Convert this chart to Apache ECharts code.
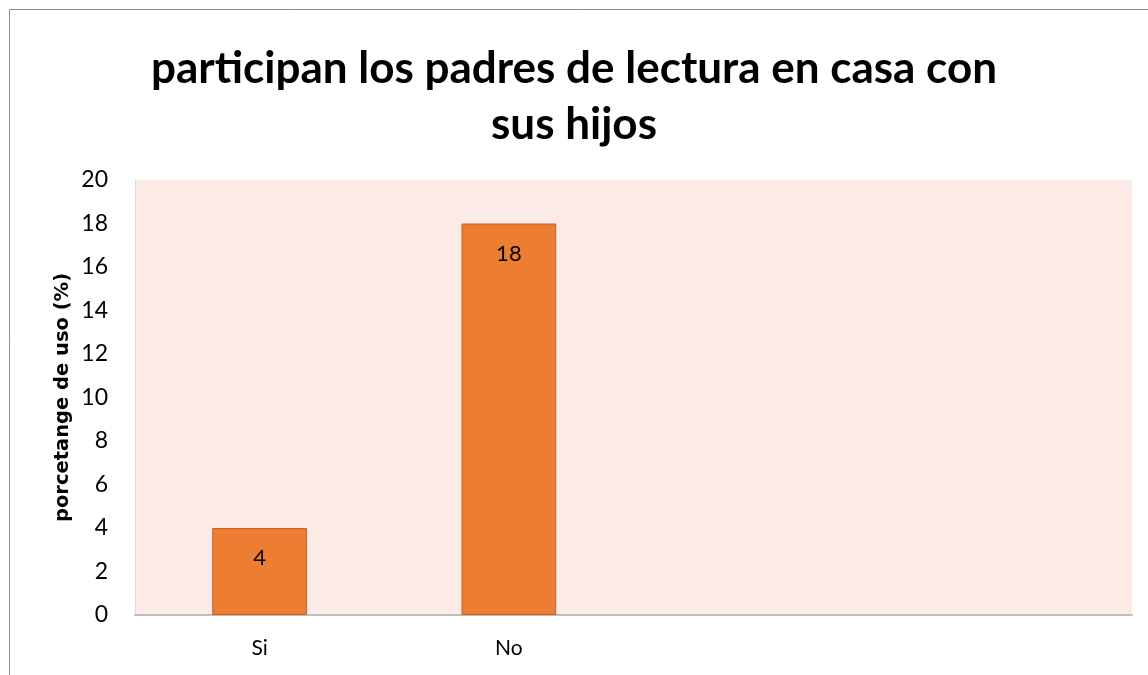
<!DOCTYPE html>
<html>
<head>
<meta charset="utf-8">
<script src="https://cdn.jsdelivr.net/npm/echarts@6/dist/echarts.min.js"></script>
<style>
html,body{margin:0;padding:0;background:#fff;}
#c{width:1148px;height:675px;}
</style>
</head>
<body>
<div id="c"></div>
<script>
const titleText = 'participan los padres de lectura en casa con\nsus hijos';
const yAxisTitle = 'porcetange de uso (%)';
const categories = ['Si', 'No', '', ''];
const values = [4, 18, '-', '-'];

const chart = echarts.init(document.getElementById('c'), null, {renderer: 'canvas'});
const FONT = 'Lato, "Open Sans", sans-serif';
chart.setOption({
  backgroundColor: '#ffffff',
  animation: false,
  title: {
    text: titleText,
    left: 'center',
    top: 36,
    textStyle: {fontFamily: FONT, fontWeight: 'bold', fontSize: 44, color: '#000', lineHeight: 56}
  },
  graphic: [{
    type: 'rect',
    shape: {x: 9.5, y: 9.5, width: 1200, height: 700},
    style: {fill: 'none', stroke: '#8c8c8c', lineWidth: 1},
    silent: true
  }],
  grid: {
    left: 135, right: 16, top: 180, bottom: 60,
    show: true, backgroundColor: '#FBEAE6', borderWidth: 0
  },
  xAxis: {
    type: 'category',
    data: categories,
    axisLine: {show: true, lineStyle: {color: '#BFBFBF', width: 2}},
    axisTick: {show: false},
    axisLabel: {fontFamily: FONT, fontSize: 21, color: '#000', margin: 23}
  },
  yAxis: {
    type: 'value',
    min: 0, max: 20, interval: 2,
    name: yAxisTitle,
    nameLocation: 'middle',
    nameGap: 62,
    nameMoveOverlap: false,
    nameTextStyle: {fontFamily: '"DejaVu Sans", sans-serif', fontWeight: 'bold', fontSize: 19.5, color: '#000'},
    axisLine: {show: true, lineStyle: {color: '#D9D9D9', width: 1}},
    axisTick: {show: false},
    splitLine: {show: false},
    axisLabel: {fontFamily: FONT, fontSize: 23, color: '#000', margin: 27}
  },
  series: [{
    type: 'bar',
    data: values,
    barWidth: '38%',
    itemStyle: {color: '#ED7D31', borderColor: '#C0612A', borderWidth: 1},
    label: {
      show: true, position: 'insideTop', distance: 19,
      fontFamily: FONT, fontSize: 22, color: '#000'
    }
  }]
});
</script>
</body>
</html>
